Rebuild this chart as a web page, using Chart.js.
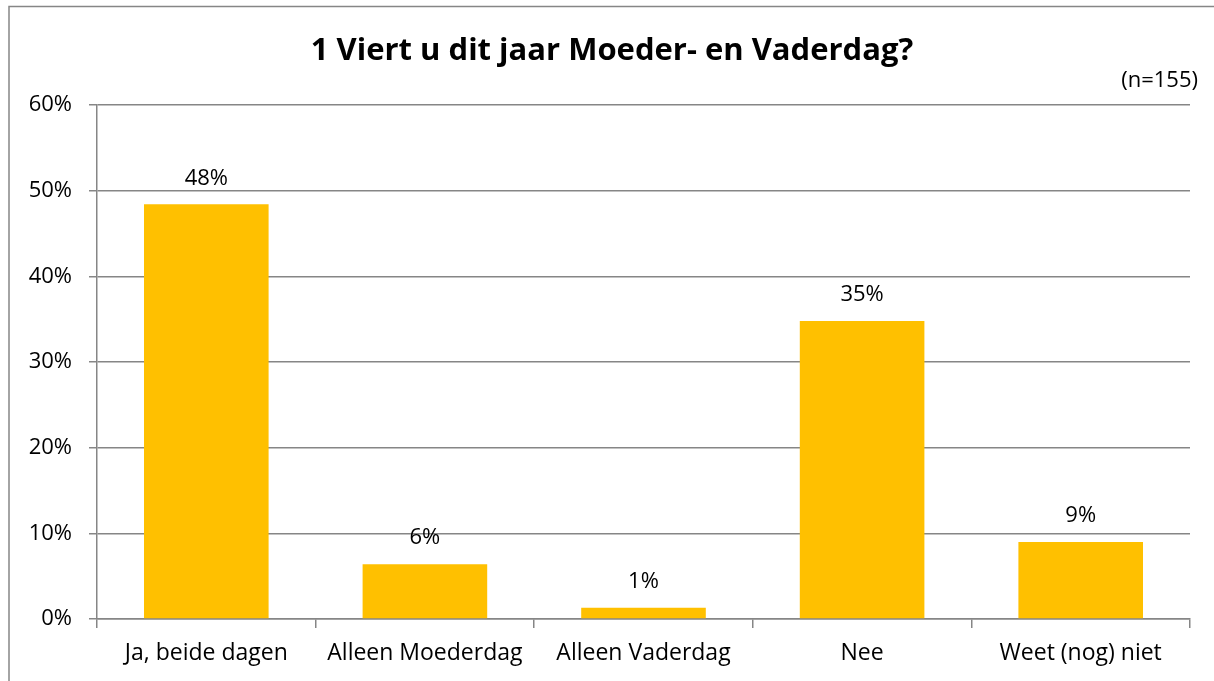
<!DOCTYPE html>
<html>
<head>
<meta charset="utf-8">
<script src="https://cdn.jsdelivr.net/npm/chart.js@4"></script>
<style>
  html, body { margin: 0; padding: 0; background: #fff; }
  #wrap { width: 1214px; height: 681px; position: relative; }
</style>
</head>
<body>
<div id="wrap"><canvas id="chart"></canvas></div>
<script>
const categories = ['Ja, beide dagen', 'Alleen Moederdag', 'Alleen Vaderdag', 'Nee', 'Weet (nog) niet'];
const values = [48.4, 6.4, 1.3, 34.8, 9.0];
const valueLabels = ['48%', '6%', '1%', '35%', '9%'];
const yTicks = [0, 10, 20, 30, 40, 50, 60];

const FONT = '"Open Sans", sans-serif';
const GRID = '#868686';

// frame, title, n-label and bar values
const extras = {
    id: 'extras',
    beforeDraw(chart) {
        const ctx = chart.ctx;
        ctx.save();
        ctx.strokeStyle = GRID;
        ctx.lineWidth = 1.5;
        ctx.beginPath();
        ctx.moveTo(9, 690);
        ctx.lineTo(9, 6.5);
        ctx.lineTo(1214, 6.5);
        ctx.stroke();
        ctx.restore();
    },
    afterDraw(chart) {
        const ctx = chart.ctx;
        ctx.save();
        ctx.fillStyle = '#000';
        ctx.textAlign = 'center';
        ctx.textBaseline = 'middle';
        ctx.font = 'bold 31px ' + FONT;
        ctx.fillText('1 Viert u dit jaar Moeder- en Vaderdag?', 612, 51);
        ctx.font = '22px ' + FONT;
        ctx.textAlign = 'right';
        ctx.fillText('(n=155)', 1198, 81);
        ctx.textAlign = 'center';
        const meta = chart.getDatasetMeta(0);
        meta.data.forEach((bar, i) => {
            ctx.fillText(valueLabels[i], bar.x, bar.y - 26);
        });
        ctx.restore();
    }
};

new Chart(document.getElementById('chart'), {
    type: 'bar',
    data: {
        labels: categories,
        datasets: [{
            data: values,
            backgroundColor: '#FFC000',
            borderWidth: 0,
            barPercentage: 0.57,
            categoryPercentage: 1
        }]
    },
    options: {
        responsive: true,
        maintainAspectRatio: false,
        animation: false,
        layout: { padding: { left: 0, right: 24, top: 105, bottom: 0 } },
        plugins: {
            legend: { display: false },
            tooltip: { enabled: false }
        },
        scales: {
            x: {
                afterFit: s => { s.height = 62; },
                grid: {
                    offset: true,
                    drawOnChartArea: false,
                    color: GRID,
                    lineWidth: 1.5,
                    tickLength: 9
                },
                border: { color: GRID, width: 1.5 },
                ticks: {
                    color: '#000',
                    font: { family: FONT, size: 23 },
                    padding: 12,
                    maxRotation: 0
                }
            },
            y: {
                min: 0,
                max: 60,
                afterFit: s => { s.width = 97; },
                afterBuildTicks: s => { s.ticks = yTicks.map(v => ({ value: v })); },
                grid: {
                    color: GRID,
                    lineWidth: 1.5,
                    tickLength: 8
                },
                border: { color: GRID, width: 1.5 },
                ticks: {
                    color: '#000',
                    font: { family: FONT, size: 22 },
                    padding: 17,
                    callback: v => v + '%'
                }
            }
        }
    },
    plugins: [extras]
});
</script>
</body>
</html>
